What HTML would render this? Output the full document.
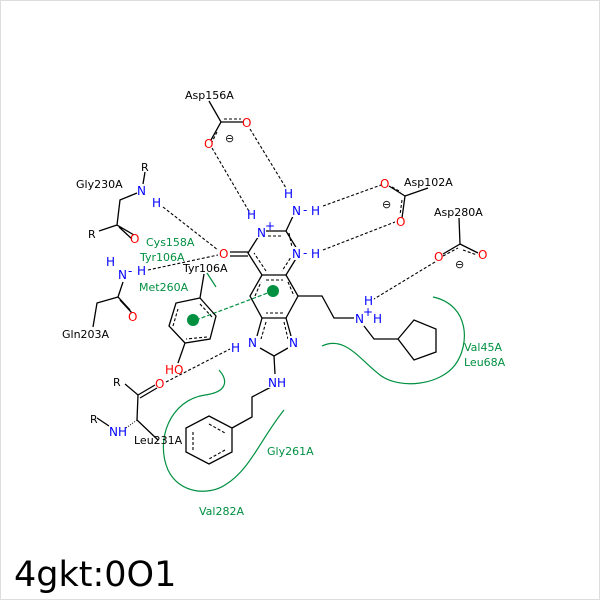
<!DOCTYPE html>
<html><head><meta charset="utf-8"><style>body{margin:0;background:#fff}svg{display:block}text{font-family:"DejaVu Sans","Liberation Sans",sans-serif;font-size:11px}.a text{font-size:12px}</style></head><body>
<svg width="600" height="600" viewBox="0 0 600 600" xmlns="http://www.w3.org/2000/svg">
<rect x="0.5" y="0.5" width="599" height="599" fill="#fff" stroke="#ddd"/>
<g fill="none" stroke="#009040" stroke-width="1.2">
<path d="M433,297 C470,305 470,345 455,365 C440,385 400,390 380,375 C360,360 345,335 322,346"/>
<path d="M219,370 C228,380 228,392 205,395 C170,400 155,440 168,470 C180,495 210,495 225,485 C250,470 260,440 284,410"/>
<path d="M207,273 L216,287"/>
<path d="M196,320 L273,291" stroke-dasharray="4,2"/>
</g>
<circle cx="273" cy="291" r="6" fill="#009040"/>
<circle cx="193" cy="320" r="6" fill="#009040"/>
<g stroke="#000" stroke-width="1.1" fill="none" stroke-dasharray="3,2">
<path d="M212,148 L250,213"/><path d="M250,129 L286,188"/>
<path d="M323,206 L381,185"/><path d="M323,250 L395,222"/>
<path d="M435,262 L374,299"/><path d="M163,207 L218,250"/>
<path d="M148,270 L218,255"/><path d="M166,382 L230,349"/>
<path d="M224,119 L241,119"/><path d="M217,132 L212,142"/>
<path d="M402,200 L400,215"/><path d="M392,187 L401,192"/>
<path d="M443,256 L458,248"/><path d="M463,250 L477,255"/>
<path d="M268,236 L281,236"/><path d="M289,233 L293,252"/><path d="M293,254 L282,271"/><path d="M266,271 L254,253"/>
<path d="M266,280 L283,280"/><path d="M288,282 L294,296"/><path d="M283,313 L266,313"/><path d="M255,296 L261,282"/>
<path d="M266,322 L261,339"/><path d="M284,322 L288,339"/>
<path d="M200,304 L212,317"/><path d="M207,337 L186,339"/><path d="M173,326 L178,309"/>
<path d="M209,424 L225,433"/><path d="M225,450 L209,459"/><path d="M193,450 L193,432"/>
</g>
<g stroke="#000" stroke-width="1.3" fill="none">
<path d="M209,101 L221,122 L243,122 M221,122 L211,140"/>
<path d="M405,196 L389,186 M405,196 L402,218 M405,196 L428,188"/>
<path d="M459,218 L460,244 L443,254 M460,244 L478,253"/>
<path d="M262,231 L286,231 L297,249 M286,275 L297,257 M262,231 L248,253 L262,275 L286,275 M286,231 L294,214"/>
<path d="M230,252 L248,252 M230,256 L248,256"/>
<path d="M286,275 L298,296 L286,318 L262,318 L250,296 L262,275"/>
<path d="M262,318 L257,336 M286,318 L291,336 M260,348 L274,356 L288,348 M274,356 L275,374"/>
<path d="M298,296 L322,296 L334,318 L354,318 M364,326 L374,339 L398,339"/>
<path d="M398,339 L414,320 L436,329 L436,352 L414,360 Z"/>
<path d="M200,298 L216,316 L210,339 L185,343 L169,326 L176,303 Z M200,298 L204,274 M185,343 L178,363"/>
<path d="M271,387 L252,397 L252,417 L232,428 M232,428 L232,452 L209,464 L186,452 L186,428 L209,416 Z"/>
<path d="M145,172 L143,184 M137,193 L120,200 L117,225 L134,235 M119,227 L132,239 M117,225 L99,231"/>
<path d="M123,282 L118,297 L130,310 M120,300 L132,313 M118,297 L97,303 L93,327"/>
<path d="M125,384 L138,395 L155,385 M140,398 L157,388 M138,395 L137,420 L158,440 M109,426 L97,418"/>
</g>
<path d="M137,420 L126,428" stroke="#000" stroke-width="1" stroke-dasharray="1,1.5"/>
<g fill="#fff">
<rect x="256" y="225" width="10" height="13"/><rect x="291" y="247" width="10" height="13"/><rect x="291" y="204" width="10" height="13"/>
<rect x="247" y="336" width="10" height="13"/><rect x="288" y="336" width="10" height="13"/><rect x="267" y="375" width="19" height="13"/>
<rect x="354" y="312" width="10" height="13"/><rect x="218" y="247" width="10" height="13"/>
</g>
<g fill="#000">
<text x="185" y="99">Asp156A</text><text x="404" y="186">Asp102A</text><text x="434" y="216">Asp280A</text>
<text x="76" y="188">Gly230A</text><text x="183" y="272">Tyr106A</text><text x="62" y="338">Gln203A</text>
<text x="134" y="444">Leu231A</text>
<text x="141" y="171">R</text><text x="88" y="238">R</text><text x="113" y="386">R</text><text x="90" y="423">R</text>
<text x="225" y="142" font-size="12">⊖</text><text x="382" y="208" font-size="12">⊖</text><text x="455" y="268" font-size="12">⊖</text>
<text x="14" y="586" style="font-size:35px">4gkt:0O1</text>
</g>
<g class="a" fill="#f00">
<text x="242" y="127">O</text><text x="204" y="148">O</text><text x="380" y="188">O</text><text x="396" y="226">O</text>
<text x="434" y="261">O</text><text x="478" y="259">O</text><text x="219" y="258">O</text><text x="130" y="243">O</text>
<text x="128" y="321">O</text><text x="155" y="388">O</text><text x="165" y="374">HO</text>
</g>
<g class="a" fill="#00f">
<text x="284" y="198">H</text><text x="292" y="215">N</text><text x="303" y="214">-</text><text x="311" y="215">H</text>
<text x="247" y="219">H</text><text x="257" y="237">N</text><text x="265" y="230" font-size="8">+</text>
<text x="292" y="258">N</text><text x="303" y="257">-</text><text x="311" y="258">H</text>
<text x="248" y="347">N</text><text x="289" y="347">N</text><text x="231" y="352">H</text><text x="268" y="387">NH</text>
<text x="364" y="305">H</text><text x="355" y="323">N</text><text x="363" y="316" font-size="8">+</text><text x="373" y="323">H</text>
<text x="137" y="195">N</text><text x="152" y="207">H</text>
<text x="106" y="266">H</text><text x="118" y="279">N</text><text x="137" y="275">H</text><text x="128" y="275">-</text>
<text x="109" y="436">NH</text>
</g>
<g fill="#009040">
<text x="146" y="246">Cys158A</text><text x="140" y="261">Tyr106A</text><text x="139" y="291">Met260A</text>
<text x="464" y="351">Val45A</text><text x="464" y="366">Leu68A</text><text x="267" y="455">Gly261A</text><text x="199" y="515">Val282A</text>
</g>
</svg>
</body></html>
